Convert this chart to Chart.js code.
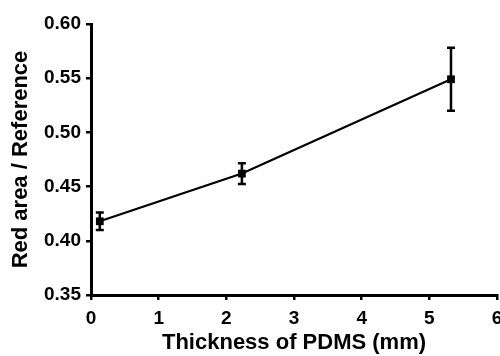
<!DOCTYPE html>
<html>
<head>
<meta charset="utf-8">
<script src="https://cdn.jsdelivr.net/npm/chart.js@4.4.1/dist/chart.umd.min.js"></script>
<style>
  html, body { margin: 0; padding: 0; background: #fff; }
  #wrap { width: 500px; height: 356px; }
</style>
</head>
<body>
<div id="wrap"><canvas id="chart" width="500" height="356"></canvas></div>
<script>
// PDMS thickness (mm) and measured ratio
const thickness = [0.13, 2.23, 5.32];
const ratio = [0.418, 0.462, 0.549];
const ratioErr = [0.008, 0.0095, 0.029];
const xTicks = [0, 1, 2, 3, 4, 5, 6];
const yTicks = [0.35, 0.40, 0.45, 0.50, 0.55, 0.60];

const FONT = 'Liberation Sans, Arial, sans-serif';

// draw error bars from the scales
const errorBars = {
    id: 'errorBars',
    afterDatasetsDraw(chart) {
        const ctx = chart.ctx;
        const xs = chart.scales.x, ys = chart.scales.y;
        ctx.save();
        ctx.strokeStyle = '#000';
        ctx.lineWidth = 2.5;
        for (let i = 0; i < thickness.length; i++) {
            const px = xs.getPixelForValue(thickness[i]);
            const top = ys.getPixelForValue(ratio[i] + ratioErr[i]);
            const bot = ys.getPixelForValue(ratio[i] - ratioErr[i]);
            ctx.beginPath();
            ctx.moveTo(px, top); ctx.lineTo(px, bot);
            ctx.moveTo(px - 4, top); ctx.lineTo(px + 4, top);
            ctx.moveTo(px - 4, bot); ctx.lineTo(px + 4, bot);
            ctx.stroke();
        }
        ctx.restore();
    }
};

new Chart(document.getElementById('chart'), {
    type: 'line',
    data: {
        datasets: [{
            data: thickness.map((x, i) => ({ x: x, y: ratio[i] })),
            borderColor: '#000',
            backgroundColor: '#000',
            borderWidth: 2.2,
            pointStyle: 'rect',
            pointRadius: 5.5,
            pointBorderWidth: 0,
            tension: 0
        }]
    },
    options: {
        responsive: false,
        animation: false,
        layout: { autoPadding: false, padding: { top: 24, right: 3, left: 0, bottom: 0 } },
        plugins: { legend: { display: false }, tooltip: { enabled: false } },
        scales: {
            x: {
                type: 'linear',
                min: 0, max: 6,
                afterBuildTicks: s => { s.ticks = xTicks.map(v => ({ value: v })); },
                afterFit: s => { s.height = 61; s.paddingLeft = 0; s.paddingRight = 0; },
                border: { color: '#000', width: 3 },
                grid: { drawOnChartArea: false, drawTicks: true, tickLength: 5, color: '#000', tickColor: '#000', lineWidth: 2.5, tickWidth: 2.5 },
                ticks: { color: '#000', font: { family: FONT, size: 19, weight: 'bold' }, padding: 7, maxRotation: 0 },
                title: { display: true, text: 'Thickness of PDMS (mm)', color: '#000',
                         font: { family: FONT, size: 22, weight: 'bold' }, padding: { top: 9, bottom: 0 } }
            },
            y: {
                min: 0.35, max: 0.60,
                afterBuildTicks: s => { s.ticks = yTicks.map(v => ({ value: v })); },
                afterFit: s => { s.width = 91; s.paddingTop = 0; s.paddingBottom = 0; },
                border: { color: '#000', width: 3 },
                grid: { drawOnChartArea: false, drawTicks: true, tickLength: 5, color: '#000', tickColor: '#000', lineWidth: 2.5, tickWidth: 2.5 },
                ticks: { color: '#000', font: { family: FONT, size: 19, weight: 'bold' }, padding: 5,
                         callback: v => v.toFixed(2) },
                title: { display: true, text: 'Red area / Reference', color: '#000',
                         font: { family: FONT, size: 22, weight: 'bold' }, padding: { top: 8, bottom: 0 } }
            }
        }
    },
    plugins: [errorBars]
});
</script>
</body>
</html>
